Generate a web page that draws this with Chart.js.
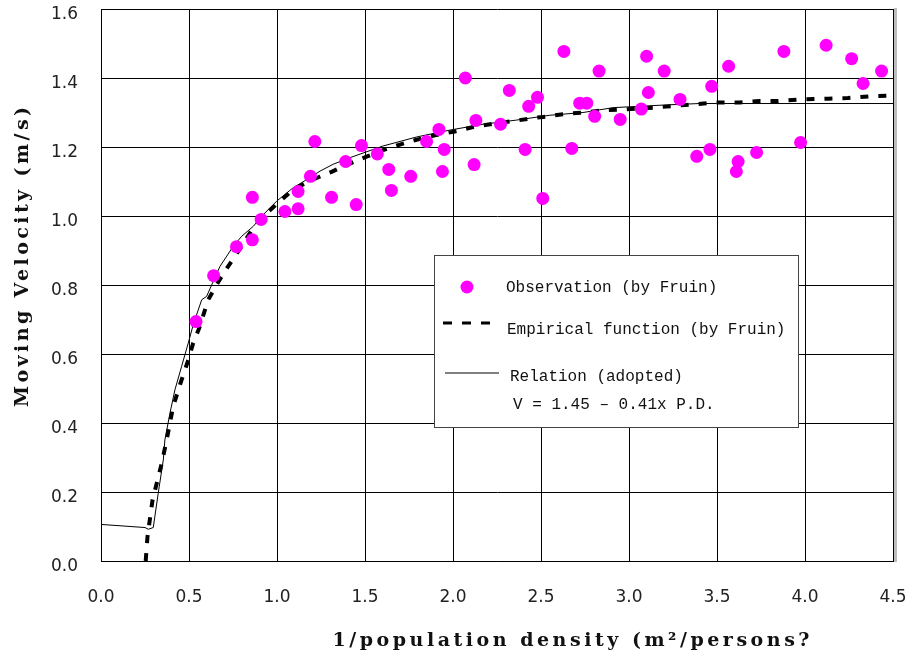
<!DOCTYPE html>
<html>
<head>
<meta charset="utf-8">
<script src="https://cdn.jsdelivr.net/npm/chart.js@4.4.1/dist/chart.umd.min.js"></script>
<style>
  html, body { margin: 0; padding: 0; background: #fff; }
  #wrap { width: 910px; height: 662px; }
</style>
</head>
<body>
<div id="wrap"><canvas id="chart" width="910" height="662"></canvas></div>
<script>
// Observation (by Fruin)
const obsX = [0.54, 0.64, 0.77, 0.86, 0.86, 0.91, 1.045, 1.12, 1.12, 1.19, 1.215, 1.31, 1.39, 1.45, 1.48,
  1.57, 1.635, 1.65, 1.76, 1.85, 1.92, 1.95, 1.94, 2.07, 2.13, 2.12, 2.27, 2.32, 2.41, 2.43, 2.48, 2.51,
  2.63, 2.675, 2.72, 2.76, 2.805, 2.83, 2.95, 3.07, 3.10, 3.11, 3.20, 3.29, 3.385, 3.46, 3.47, 3.566,
  3.61, 3.62, 3.725, 3.88, 3.975, 4.12, 4.265, 4.33, 4.435];
const obsY = [0.694, 0.827, 0.911, 1.054, 0.931, 0.99, 1.013, 1.071, 1.021, 1.115, 1.216, 1.054, 1.158, 1.033, 1.204,
  1.18, 1.135, 1.074, 1.115, 1.216, 1.251, 1.193, 1.129, 1.40, 1.277, 1.149, 1.266, 1.364, 1.193, 1.318, 1.344, 1.051,
  1.477, 1.196, 1.327, 1.327, 1.289, 1.42, 1.28, 1.31, 1.463, 1.358, 1.42, 1.338, 1.173, 1.193, 1.376, 1.434,
  1.129, 1.158, 1.184, 1.477, 1.213, 1.495, 1.456, 1.384, 1.42];

// Empirical function (by Fruin)
const empX = [0.254, 0.264, 0.293, 0.345, 0.373, 0.41, 0.449, 0.496, 0.524, 0.558, 0.609, 0.657, 0.704, 0.761,
  0.805, 0.859, 0.922, 0.995, 1.092, 1.206, 1.31, 1.414, 1.509, 1.603, 1.698, 1.793, 1.897, 2.01, 2.114, 2.237,
  2.341, 2.455, 2.512, 2.625, 2.739, 2.843, 2.966, 3.137, 3.373, 3.496, 3.629, 3.742, 3.846, 3.969, 4.13, 4.244,
  4.367, 4.49];
const empY = [0, 0.07, 0.177, 0.283, 0.351, 0.448, 0.511, 0.583, 0.632, 0.675, 0.757, 0.801, 0.84, 0.883,
  0.917, 0.961, 0.999, 1.033, 1.077, 1.106, 1.128, 1.152, 1.172, 1.191, 1.207, 1.221, 1.234, 1.245, 1.258, 1.268,
  1.275, 1.284, 1.287, 1.295, 1.3, 1.306, 1.309, 1.314, 1.324, 1.329, 1.329, 1.333, 1.333, 1.338, 1.34, 1.342,
  1.347, 1.349];

// Relation (adopted)
const relX = [0, 0.25, 0.269, 0.297, 0.325, 0.354, 0.363, 0.392, 0.42, 0.458, 0.496, 0.524, 0.572, 0.6, 0.676,
  0.751, 0.799, 0.865, 0.922, 0.998, 1.092, 1.187, 1.244, 1.319, 1.414, 1.603, 1.793, 1.982, 2.171, 2.361, 2.55,
  2.739, 2.909, 3.212, 3.401, 3.496, 4.5];
const relY = [0.106, 0.097, 0.092, 0.097, 0.196, 0.293, 0.351, 0.429, 0.496, 0.564, 0.632, 0.685, 0.757, 0.767, 0.854,
  0.912, 0.941, 0.97, 1.004, 1.043, 1.082, 1.111, 1.13, 1.15, 1.169, 1.203, 1.229, 1.249, 1.266, 1.278, 1.292,
  1.3, 1.314, 1.322, 1.326, 1.326, 1.326];

const xTicks = [0, 0.5, 1.0, 1.5, 2.0, 2.5, 3.0, 3.5, 4.0, 4.5];
const yTicks = [0, 0.2, 0.4, 0.6, 0.8, 1.0, 1.2, 1.4, 1.6];

const legendItems = ['Observation (by Fruin)', 'Empirical function (by Fruin)', 'Relation (adopted)', 'V = 1.45 \u2013 0.41x P.D.'];
const xTitle = '1/population density (m\u00B2/persons?';
const yTitle = 'Moving Velocity (m/s)';

const toPts = (xs, ys) => xs.map((x, i) => ({ x: x, y: ys[i] }));

// spread letters so the text fills a given width
function spacedText(ctx, text, cx, cy, width) {
  ctx.letterSpacing = '0px';
  const w = ctx.measureText(text).width;
  const sp = Math.max(0, (width - w) / (text.length - 1));
  ctx.letterSpacing = sp + 'px';
  ctx.textAlign = 'left';
  ctx.textBaseline = 'middle';
  ctx.fillText(text, cx - width / 2, cy);
  ctx.letterSpacing = '0px';
}

// the frame should sit where the reference has it, not shrink for edge labels
function noEdgePad(s) {
  s.paddingTop = 0;
  s.paddingBottom = 0;
  s.paddingLeft = 0;
  s.paddingRight = 0;
}

const decor = {
  id: 'decor',
  afterDraw(chart) {
    const ctx = chart.ctx;
    const a = chart.chartArea;
    ctx.save();

    // light edge on the right of the frame
    ctx.fillStyle = '#bdbdbd';
    ctx.fillRect(a.right + 1, a.top - 1, 3, a.bottom - a.top + 2);

    // axis titles
    ctx.fillStyle = '#111';
    ctx.font = 'bold 19px "DejaVu Serif"';
    spacedText(ctx, xTitle, 571, 641, 477);
    ctx.save();
    ctx.translate(23, 257);
    ctx.rotate(-Math.PI / 2);
    spacedText(ctx, yTitle, 0, 0, 300);
    ctx.restore();

    // legend box
    const lx = a.left + 333, ly = a.top + 246, lw = 364, lh = 172;
    ctx.fillStyle = '#fff';
    ctx.fillRect(lx, ly, lw, lh);
    ctx.strokeStyle = '#444';
    ctx.lineWidth = 1;
    ctx.strokeRect(lx + 0.5, ly + 0.5, lw, lh);

    ctx.fillStyle = '#ff00ff';
    ctx.beginPath();
    ctx.arc(lx + 33, ly + 32, 6.5, 0, Math.PI * 2);
    ctx.fill();

    ctx.strokeStyle = '#000';
    ctx.lineWidth = 3;
    ctx.setLineDash([9, 10]);
    ctx.beginPath();
    ctx.moveTo(lx + 9, ly + 68);
    ctx.lineTo(lx + 56, ly + 68);
    ctx.stroke();
    ctx.setLineDash([]);

    ctx.lineWidth = 1;
    ctx.beginPath();
    ctx.moveTo(lx + 11, ly + 118);
    ctx.lineTo(lx + 65, ly + 118);
    ctx.stroke();

    ctx.fillStyle = '#111';
    ctx.font = '16px "Liberation Mono"';
    ctx.textAlign = 'left';
    ctx.textBaseline = 'middle';
    ctx.fillText(legendItems[0], lx + 72, ly + 33);
    ctx.fillText(legendItems[1], lx + 73, ly + 75);
    ctx.fillText(legendItems[2], lx + 76, ly + 122);
    ctx.fillText(legendItems[3], lx + 79, ly + 150);

    ctx.restore();
  }
};

new Chart(document.getElementById('chart'), {
  type: 'scatter',
  data: {
    datasets: [
      {
        label: legendItems[2],
        data: toPts(relX, relY),
        showLine: true,
        borderColor: '#000',
        borderWidth: 1,
        pointRadius: 0,
        tension: 0,
        order: 3
      },
      {
        label: legendItems[1],
        data: toPts(empX, empY),
        showLine: true,
        borderColor: '#000',
        borderWidth: 4,
        borderDash: [8, 10],
        pointRadius: 0,
        tension: 0,
        order: 2
      },
      {
        label: legendItems[0],
        data: toPts(obsX, obsY),
        backgroundColor: '#ff00ff',
        borderWidth: 0,
        pointRadius: 6.5,
        order: 1
      }
    ]
  },
  options: {
    responsive: false,
    animation: false,
    events: [],
    layout: { padding: { left: 0, right: 17, top: 9, bottom: 0 } },
    plugins: {
      legend: { display: false },
      tooltip: { enabled: false }
    },
    scales: {
      x: {
        type: 'linear',
        min: 0,
        max: 4.5,
        afterBuildTicks: s => { s.ticks = xTicks.map(v => ({ value: v })); },
        afterFit: s => { s.height = 101; noEdgePad(s); },
        grid: { color: '#000', lineWidth: 1, drawTicks: false },
        border: { color: '#000', width: 1 },
        ticks: {
          padding: 26,
          color: '#222',
          font: { family: '"DejaVu Sans"', size: 17 },
          callback: v => v.toFixed(1)
        }
      },
      y: {
        type: 'linear',
        min: 0,
        max: 1.6,
        afterBuildTicks: s => { s.ticks = yTicks.map(v => ({ value: v })); },
        afterFit: s => { s.width = 101; noEdgePad(s); },
        grid: { color: '#000', lineWidth: 1, drawTicks: false },
        border: { color: '#000', width: 1 },
        ticks: {
          padding: 23,
          labelOffset: 6,
          color: '#222',
          font: { family: '"DejaVu Sans"', size: 17 },
          callback: v => v.toFixed(1)
        }
      }
    }
  },
  plugins: [decor]
});
</script>
</body>
</html>
